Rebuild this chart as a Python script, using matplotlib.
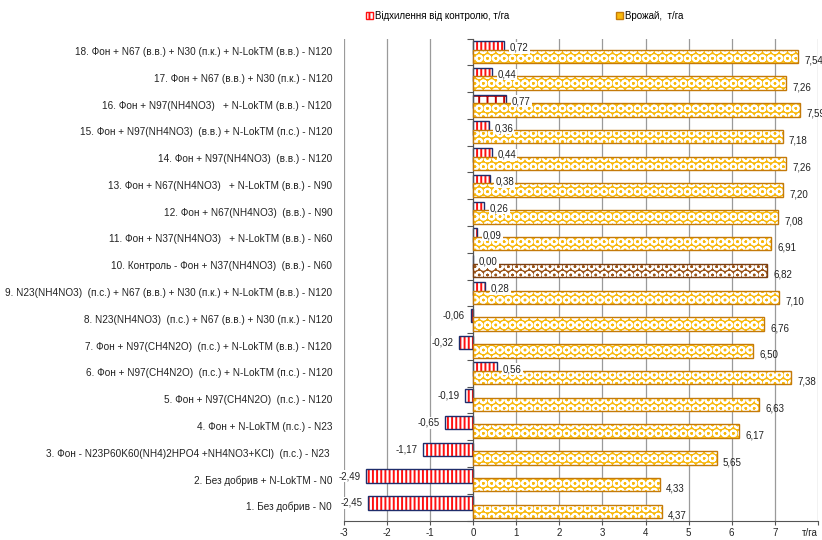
import numpy as np
import matplotlib
matplotlib.use("Agg")
import matplotlib.pyplot as plt
from matplotlib.patches import Patch

plt.rcParams['font.family'] = ['Liberation Sans', 'DejaVu Sans']
plt.rcParams['hatch.linewidth'] = 1.4

labels = [
    "1. Без добрив - N0",
    "2. Без добрив + N-LokTM - N0",
    "3. Фон - N23P60K60(NH4)2HPO4 +NH4NO3+KCl)  (п.с.) - N23 ",
    "4. Фон + N-LokTM (п.с.) - N23",
    "5. Фон + N97(CH4N2O)  (п.с.) - N120",
    "6. Фон + N97(CH4N2O)  (п.с.) + N-LokTM (п.с.) - N120",
    "7. Фон + N97(CH4N2O)  (п.с.) + N-LokTM (в.в.) - N120",
    "8. N23(NH4NO3)  (п.с.) + N67 (в.в.) + N30 (п.к.) - N120",
    "9. N23(NH4NO3)  (п.с.) + N67 (в.в.) + N30 (п.к.) + N-LokTM (в.в.) - N120",
    "10. Контроль - Фон + N37(NH4NO3)  (в.в.) - N60",
    "11. Фон + N37(NH4NO3)   + N-LokTM (в.в.) - N60",
    "12. Фон + N67(NH4NO3)  (в.в.) - N90",
    "13. Фон + N67(NH4NO3)   + N-LokTM (в.в.) - N90",
    "14. Фон + N97(NH4NO3)  (в.в.) - N120",
    "15. Фон + N97(NH4NO3)  (в.в.) + N-LokTM (п.с.) - N120",
    "16. Фон + N97(NH4NO3)   + N-LokTM (в.в.) - N120",
    "17. Фон + N67 (в.в.) + N30 (п.к.) - N120",
    "18. Фон + N67 (в.в.) + N30 (п.к.) + N-LokTM (в.в.) - N120",
]
yields = [4.37, 4.33, 5.65, 6.17, 6.63, 7.38, 6.50, 6.76, 7.10,
          6.82, 6.91, 7.08, 7.20, 7.26, 7.18, 7.59, 7.26, 7.54]
deviation = [-2.45, -2.49, -1.17, -0.65, -0.19, 0.56, -0.32, -0.06, 0.28,
             0.00, 0.09, 0.26, 0.38, 0.44, 0.36, 0.77, 0.44, 0.72]
xticks = [-3, -2, -1, 0, 1, 2, 3, 4, 5, 6, 7, 8]
xticklabels = ["-3", "-2", "-1", "0", "1", "2", "3", "4", "5", "6", "7", "т/га"]

control_idx = 9
best_idx = 15

yellow = '#F9B90C'
yellow_edge = '#C47A0A'
brown = '#9C5518'
red = '#FF1010'
navy = '#1F2D6B'

def fmt(v):
    return f"{v:.2f}".replace('.', ',')

fig = plt.figure(figsize=(8.22, 5.4), dpi=100)
ax = fig.add_axes([0.4185, 0.036, 0.5765, 0.8925])

y = np.arange(len(labels))
off = 0.16
h = 0.5

# deviation bars (behind)
for i, v in enumerate(deviation):
    if i == best_idx:
        ax.barh(y[i] + off, v, height=h, color='white', edgecolor='#C00000',
                hatch='++', linewidth=0, zorder=2)
    else:
        ax.barh(y[i] + off, v, height=h, color='white', edgecolor=red,
                hatch='||||', linewidth=0, zorder=2)
ax.barh(y + off, deviation, height=h, fill=False, edgecolor=navy,
        linewidth=1.0, zorder=2.1)

# yield bars (front)
for i, v in enumerate(yields):
    fc = brown if i == control_idx else yellow
    ax.barh(y[i] - off, v, height=h, color=fc, edgecolor='white',
            hatch='OO', linewidth=0, zorder=3)
    ec = '#7A3E10' if i == control_idx else yellow_edge
    ax.barh(y[i] - off, v, height=h, fill=False, edgecolor=ec,
            linewidth=1.0, zorder=3.1)

# data labels
for i, v in enumerate(yields):
    ax.annotate(fmt(v), (v, y[i] - off), xytext=(4.5, -3), textcoords='offset points',
                ha='left', va='center', fontsize=7, color='#222222',
                annotation_clip=False, zorder=5)
for i, v in enumerate(deviation):
    if v >= 0:
        ax.annotate(fmt(v), (v, y[i] + off), xytext=(4, 0), textcoords='offset points',
                    ha='left', va='center', fontsize=7, color='#222222',
                    bbox=dict(boxstyle='square,pad=0.1', fc='white', ec='none'),
                    zorder=5)
    else:
        ax.annotate(fmt(v), (v, y[i] + off), xytext=(-4, 0), textcoords='offset points',
                    ha='right', va='center', fontsize=7, color='#222222',
                    bbox=dict(boxstyle='square,pad=0.1', fc='white', ec='none'),
                    zorder=5)

# category labels on the far left
for i, lab in enumerate(labels):
    ax.text(-0.025, y[i], lab, transform=ax.get_yaxis_transform(),
            ha='right', va='center', fontsize=7.2, color='#222222')

ax.set_xlim(-3, 8)
ax.set_ylim(-0.5, len(labels) - 0.5)
ax.set_xticks(xticks)
ax.set_xticklabels(xticklabels, fontsize=7, color='#222222')
ax.get_xticklabels()[-1].set_horizontalalignment('right')
ax.set_yticks(np.arange(-0.5, len(labels), 1))
ax.set_yticklabels([])
ax.spines['left'].set_position(('data', 0))
ax.spines['left'].set_color('#555555')
ax.spines['bottom'].set_color('#555555')
ax.spines['top'].set_visible(False)
ax.spines['right'].set_visible(False)
ax.tick_params(axis='y', direction='out', length=4, color='#555555')
ax.tick_params(axis='x', direction='out', length=3, color='#555555', pad=2)
ax.grid(axis='x', color='#9A9A9A', linewidth=0.9)
ax.set_axisbelow(True)

handles = [
    Patch(facecolor='white', edgecolor=red, hatch='|||'),
    Patch(facecolor=yellow, edgecolor=yellow_edge),
]
fig.legend(handles, ["Відхилення від контролю, т/га", "Врожай,  т/га"],
           loc='center left', bbox_to_anchor=(0.435, 0.97), ncol=2,
           frameon=False, fontsize=7, handlelength=0.7, handleheight=0.7,
           handletextpad=0.2, columnspacing=11)

fig.savefig('out.png', dpi=100)
